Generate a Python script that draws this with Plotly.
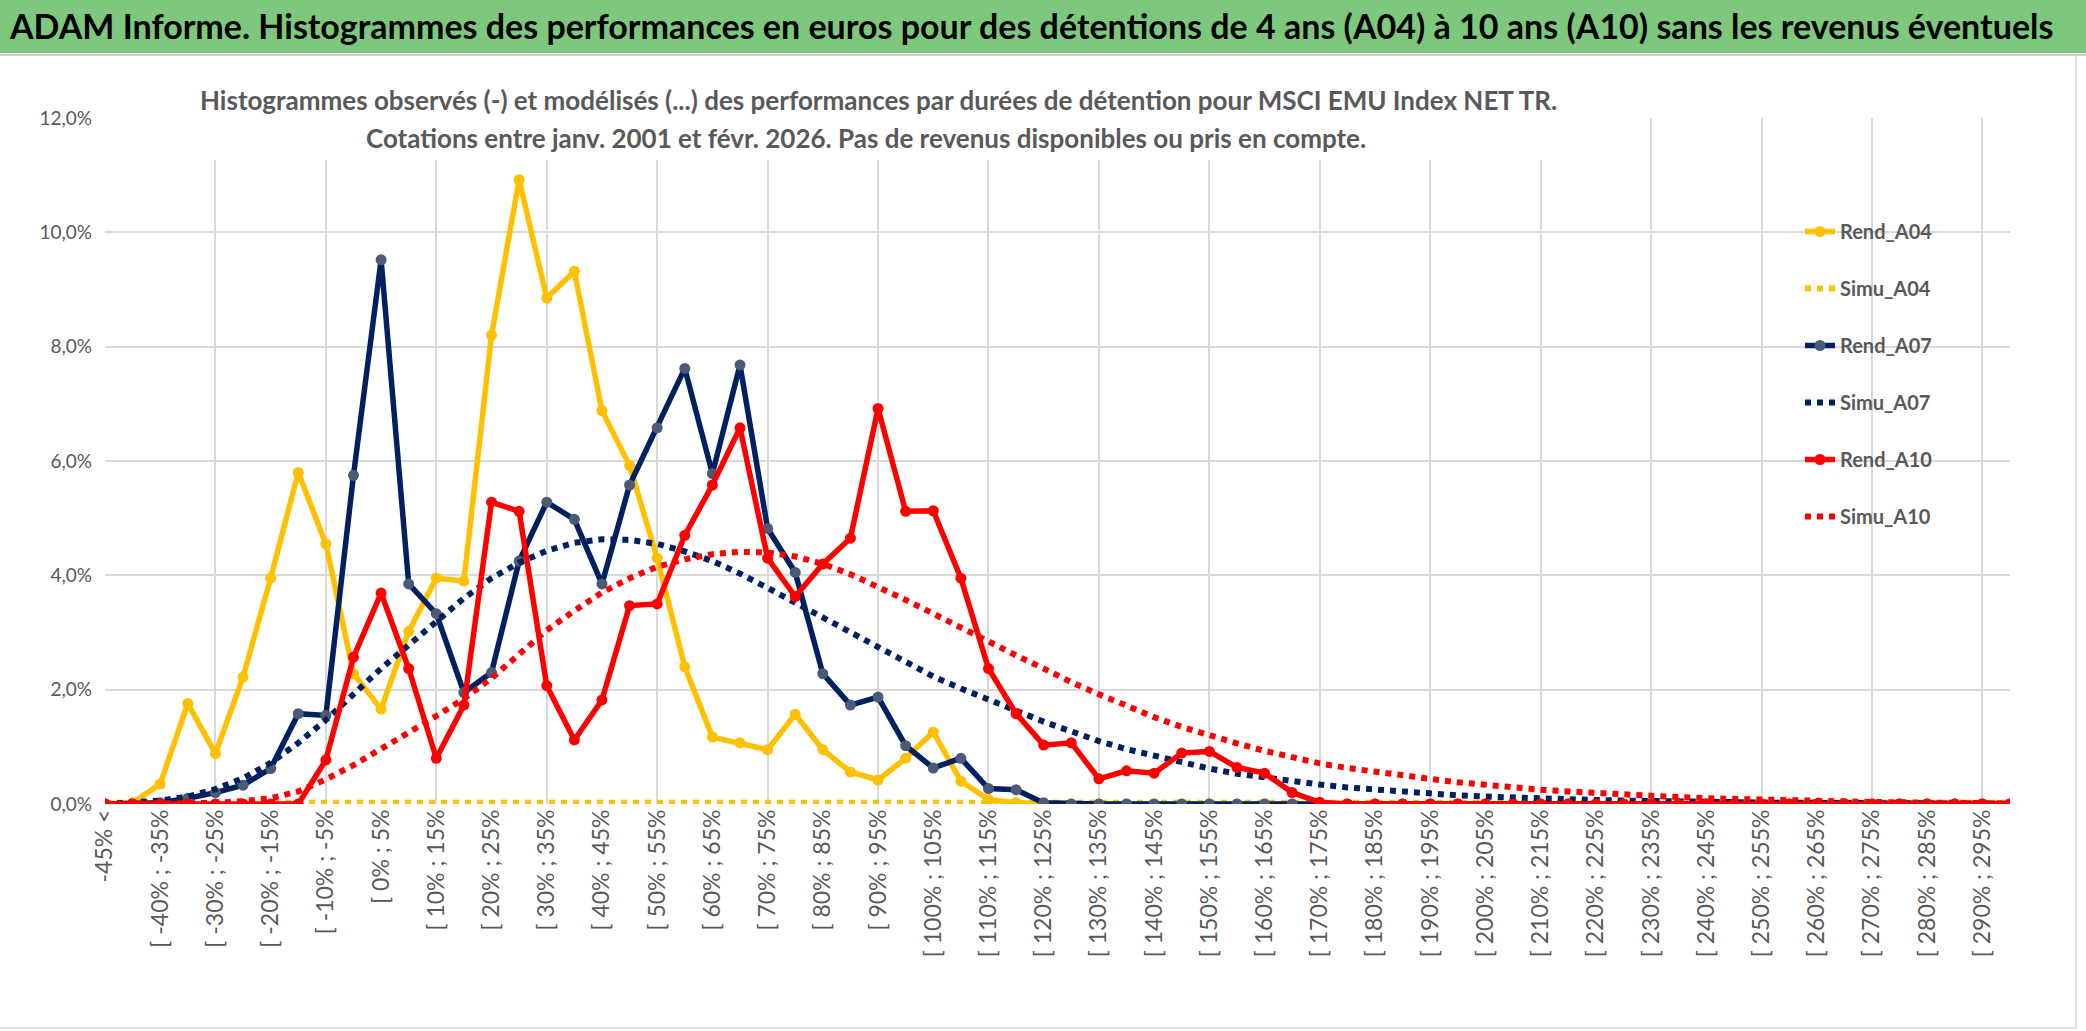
import plotly.graph_objects as go

# ---------------- data (percent) ----------------
categories = ["-45% <"] + ["[ %d%% ; %d%%" % (-50 + 5 * k, -45 + 5 * k) for k in range(1, 70)]

rend_a04 = [0, 0.02, 0.35, 1.76, 0.88, 2.22, 3.95, 5.8, 4.55, 2.28,
            1.66, 3.02, 3.95, 3.9, 8.2, 10.92, 8.85, 9.32, 6.88, 5.92,
            4.3, 2.4, 1.17, 1.07, 0.95, 1.57, 0.95, 0.56, 0.42, 0.8,
            1.26, 0.4, 0.08, 0.02, 0, 0, 0, 0, 0, 0,
            0, 0, 0, 0, 0, 0, 0, 0, 0, 0,
            0, 0, 0, 0, 0, 0, 0, 0, 0, 0,
            0, 0, 0, 0, 0, 0, 0, 0, 0, 0]

simu_a04 = [0.02] * 70

rend_a07 = [0, 0, 0.02, 0.1, 0.2, 0.33, 0.62, 1.58, 1.55, 5.75,
            9.52, 3.85, 3.33, 1.95, 2.3, 4.25, 5.28, 4.98, 3.85, 5.58,
            6.58, 7.62, 5.78, 7.68, 4.82, 4.05, 2.28, 1.73, 1.87, 1.02,
            0.63, 0.8, 0.27, 0.25, 0.02, 0, 0, 0, 0, 0,
            0, 0, 0, 0, 0, 0, 0, 0, 0, 0,
            0, 0, 0, 0, 0, 0, 0, 0, 0, 0,
            0, 0, 0, 0, 0, 0, 0, 0, 0, 0]

simu_a07 = [0.0, 0.02, 0.06, 0.13, 0.26, 0.45, 0.72, 1.07, 1.47, 1.92,
            2.37, 2.78, 3.2, 3.6, 3.95, 4.22, 4.43, 4.57, 4.63, 4.62,
            4.55, 4.42, 4.25, 4.03, 3.78, 3.52, 3.25, 2.98, 2.73, 2.47,
            2.23, 2.02, 1.82, 1.62, 1.44, 1.27, 1.1, 0.96, 0.84, 0.72,
            0.62, 0.53, 0.46, 0.39, 0.34, 0.29, 0.25, 0.21, 0.18, 0.15,
            0.13, 0.11, 0.09, 0.08, 0.07, 0.06, 0.05, 0.04, 0.035, 0.03,
            0.025, 0.02, 0.02, 0.015, 0.01, 0.01, 0.01, 0.01, 0.005, 0.005]

rend_a10 = [0, 0, 0, 0, 0, 0, 0, 0, 0.77, 2.57,
            3.69, 2.37, 0.8, 1.73, 5.28, 5.12, 2.07, 1.12, 1.82, 3.47,
            3.5, 4.7, 5.58, 6.58, 4.3, 3.63, 4.2, 4.65, 6.92, 5.12,
            5.13, 3.95, 2.37, 1.58, 1.03, 1.07, 0.44, 0.58, 0.54, 0.89,
            0.92, 0.64, 0.54, 0.2, 0.03, 0, 0, 0, 0, 0,
            0, 0, 0, 0, 0, 0, 0, 0, 0, 0,
            0, 0, 0, 0, 0, 0, 0, 0, 0, 0]

simu_a10 = [0, 0, 0, 0.01, 0.02, 0.05, 0.1, 0.22, 0.43, 0.68,
            0.95, 1.25, 1.54, 1.84, 2.2, 2.62, 3.04, 3.38, 3.7, 3.95,
            4.15, 4.28, 4.37, 4.41, 4.4, 4.33, 4.2, 4.02, 3.8, 3.57,
            3.33, 3.08, 2.84, 2.6, 2.37, 2.13, 1.92, 1.72, 1.52, 1.35,
            1.2, 1.06, 0.93, 0.81, 0.71, 0.63, 0.56, 0.5, 0.44, 0.38,
            0.33, 0.29, 0.25, 0.22, 0.19, 0.16, 0.14, 0.12, 0.1, 0.085,
            0.07, 0.06, 0.05, 0.04, 0.035, 0.03, 0.025, 0.02, 0.015, 0.012]

y_ticks = [0, 0.02, 0.04, 0.06, 0.08, 0.10, 0.12]

# ---------------- layout geometry (px) ----------------
W, H = 2086, 1031
L, R, T, B = 105, 2010, 118, 804
PW, PH = R - L, B - T


def px_x(p):
    return (p - L) / PW


def px_y(p):
    return (B - p) / PH


YELLOW = "#FFC000"
NAVY = "#002060"
RED = "#FF0000"
GREY_TXT = "#595959"
GRID = "#D9D9D9"
FONT = "Lato"

idx = list(range(len(categories)))

fig = go.Figure()


def add_rend(name, vals, color, mcolor):
    fig.add_trace(go.Scatter(
        x=idx, y=[v / 100 for v in vals], name="<b>%s</b>" % name, legendgroup=name,
        mode="lines+markers",
        line=dict(color=color, width=5.5),
        marker=dict(color=mcolor, size=11),
    ))


def add_simu(name, vals, color):
    fig.add_trace(go.Scatter(
        x=idx, y=[v / 100 for v in vals], name="<b>%s</b>" % name, legendgroup=name,
        mode="lines",
        line=dict(color=color, width=6, dash="6px,6px"),
    ))


add_rend("Rend_A04", rend_a04, YELLOW, YELLOW)
add_simu("Simu_A04", simu_a04, YELLOW)
add_rend("Rend_A07", rend_a07, NAVY, "#4B5A75")
add_simu("Simu_A07", simu_a07, NAVY)
add_rend("Rend_A10", rend_a10, RED, RED)
add_simu("Simu_A10", simu_a10, RED)

# helper trace so that the vertical-grid axis exists
fig.add_trace(go.Scatter(x=[0], y=[None], xaxis="x2", showlegend=False,
                         hoverinfo="skip", mode="lines"))

fig.update_layout(
    width=W, height=H,
    margin=dict(l=L, r=W - R, t=T, b=H - B, pad=0),
    paper_bgcolor="white", plot_bgcolor="white",
    separators=", ",
    font=dict(family=FONT, color=GREY_TXT),
    title=dict(
        text="<b>ADAM Informe. Histogrammes des performances en euros pour des détentions de 4 ans (A04) à 10 ans (A10) sans les revenus éventuels</b>",
        font=dict(family=FONT, size=34, color="black"),
        xref="container", yref="container", x=10 / W, xanchor="left",
        y=1 - 27 / H, yanchor="middle",
    ),
    xaxis=dict(
        range=[0, len(categories) - 1], tickmode="array",
        tickvals=idx[::2], ticktext=categories[::2], tickangle=-90,
        showgrid=False, zeroline=False, showline=False, ticks="",
        tickfont=dict(family=FONT, size=23, color=GREY_TXT),
    ),
    xaxis2=dict(
        overlaying="x", range=[0, len(categories) - 1], tickmode="array",
        tickvals=idx[::4], showticklabels=False, showgrid=True,
        gridcolor=GRID, gridwidth=1.5, zeroline=False, showline=False, ticks="",
    ),
    yaxis=dict(
        range=[0, 0.12], tickmode="array", tickvals=y_ticks, tickformat=".1%",
        showgrid=True, gridcolor=GRID, gridwidth=1.5, zeroline=False,
        showline=False, ticks="", ticklabelstandoff=12,
        tickfont=dict(family=FONT, size=19, color=GREY_TXT),
    ),
    legend=dict(
        x=px_x(1800), y=px_y(212), xanchor="left", yanchor="top",
        bgcolor="rgba(0,0,0,0)", tracegroupgap=28,
        font=dict(family=FONT, size=20, color=GREY_TXT),
    ),
    showlegend=True,
)

# green banner + separator line
fig.add_shape(type="rect", xref="paper", yref="paper",
              x0=px_x(0), x1=px_x(W), y0=px_y(53), y1=px_y(0),
              fillcolor="#7DC87D", line=dict(width=0), layer="above")
fig.add_shape(type="line", xref="paper", yref="paper",
              x0=px_x(0), x1=px_x(W), y0=px_y(55), y1=px_y(55),
              line=dict(color="#D0D0D0", width=2), layer="above")
# light frame of the chart area (right and bottom edges)
fig.add_shape(type="line", xref="paper", yref="paper",
              x0=px_x(2076), x1=px_x(2076), y0=px_y(1028), y1=px_y(56),
              line=dict(color="#E0E0E0", width=2), layer="above")
fig.add_shape(type="line", xref="paper", yref="paper",
              x0=px_x(0), x1=px_x(2076), y0=px_y(1028), y1=px_y(1028),
              line=dict(color="#E0E0E0", width=2), layer="above")
# white box behind the chart sub-title
fig.add_shape(type="rect", xref="paper", yref="paper",
              x0=px_x(195), x1=px_x(1562), y0=px_y(160), y1=px_y(62),
              fillcolor="white", line=dict(width=0), layer="above")

sub1 = "<b>Histogrammes observés (-) et modélisés (...) des performances par durées de détention pour MSCI EMU Index NET TR.</b>"
sub2 = "<b>Cotations entre janv. 2001 et févr. 2026. Pas de revenus disponibles ou pris en compte.</b>"
fig.add_annotation(text=sub1, xref="paper", yref="paper", x=px_x(878), y=px_y(100),
                   xanchor="center", yanchor="middle", showarrow=False,
                   font=dict(family=FONT, size=26, color=GREY_TXT))
fig.add_annotation(text=sub2, xref="paper", yref="paper", x=px_x(866), y=px_y(138),
                   xanchor="center", yanchor="middle", showarrow=False,
                   font=dict(family=FONT, size=26, color=GREY_TXT))

fig.write_html("out.html", config={"displayModeBar": False},
               post_script="document.body.style.margin='0px';document.body.style.overflow='hidden';")
